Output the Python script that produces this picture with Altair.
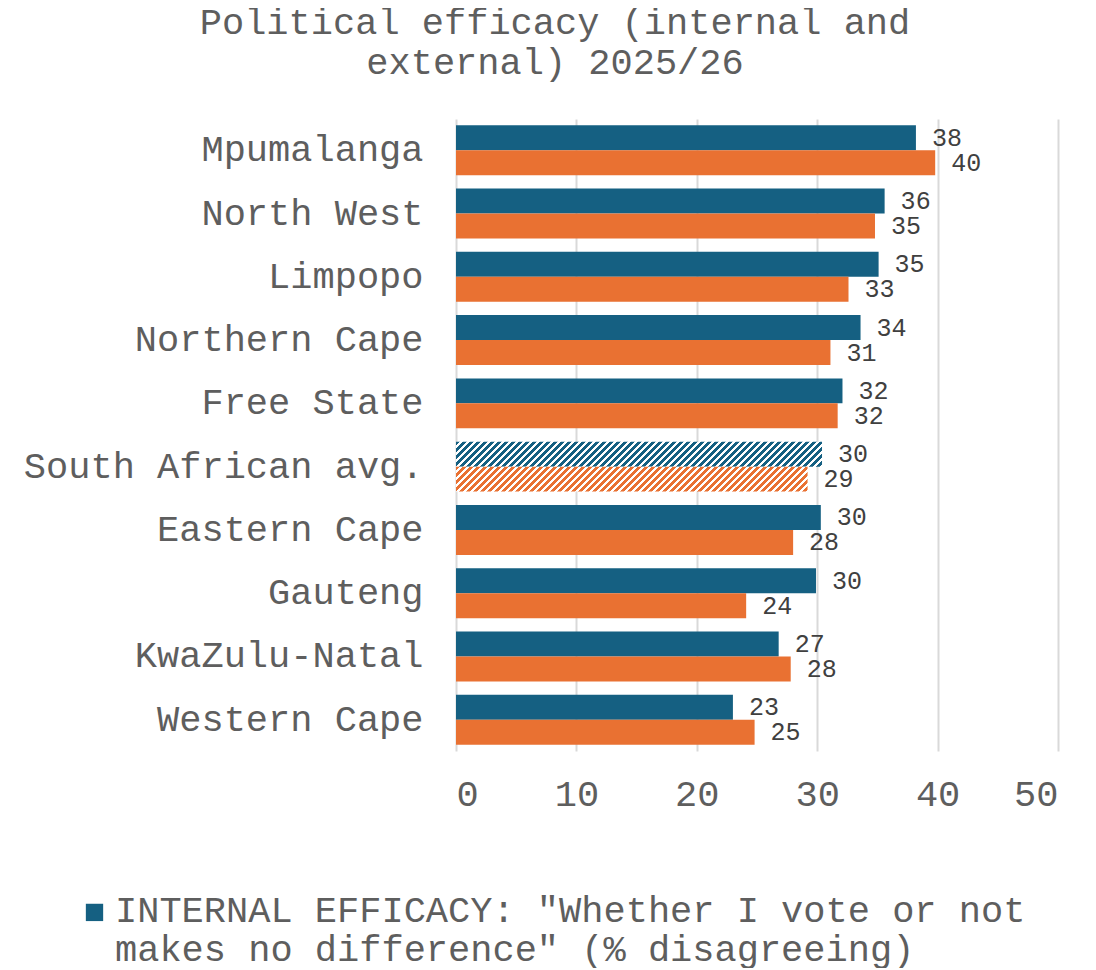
import altair as alt
import pandas as pd

regions = ["Mpumalanga", "North West", "Limpopo", "Northern Cape", "Free State",
           "South African avg.", "Eastern Cape", "Gauteng", "KwaZulu-Natal", "Western Cape"]
internal = [38.2, 35.6, 35.1, 33.6, 32.1, 30.4, 30.3, 29.9, 26.8, 23.0]
external = [39.8, 34.8, 32.6, 31.1, 31.7, 29.2, 28.0, 24.1, 27.8, 24.8]

S_INT = 'INTERNAL EFFICACY: "Whether I vote or not|makes no difference" (% disagreeing)'
S_EXT = 'EXTERNAL EFFICACY (% disagreeing)'
series = [S_INT, S_EXT]
x_ticks = [0, 10, 20, 30, 40, 50]

BLUE = "#156082"
ORANGE = "#E97132"
GREY = "#5e5e5e"
FONT = "Liberation Mono"
AVG = "South African avg."

rows = []
for r, a, b in zip(regions, internal, external):
    rows.append({"region": r, "series": S_INT, "value": a})
    rows.append({"region": r, "series": S_EXT, "value": b})
df = pd.DataFrame(rows)

W, H = 602, 632
px_per_unit = W / 50.0
bar_h = 25.0


def hatch(color, value, period=7.0):
    # diagonal stripes made with a hard-stop linear gradient over the bar's box
    w = value * px_per_unit
    s = (w + bar_h) * w / (w * w + bar_h * bar_h)
    span = w + bar_h
    p = period / span
    stops = []
    k = 0
    while k * p < 1:
        a = k * p
        m = min(a + p / 2, 1)
        e = min(a + p, 1)
        stops += [{"offset": a, "color": color}, {"offset": m, "color": color},
                  {"offset": m, "color": "#ffffff"}, {"offset": e, "color": "#ffffff"}]
        k += 1
    return alt.Gradient(gradient="linear", x1=0, y1=0, x2=s, y2=s * bar_h / w, stops=stops)


avg_int = internal[regions.index(AVG)]
avg_ext = external[regions.index(AVG)]

y_enc = alt.Y("region:N", sort=regions, title=None,
              scale=alt.Scale(paddingInner=0.21, paddingOuter=0.1),
              axis=alt.Axis(labelFont=FONT, labelFontSize=37, labelColor=GREY,
                            labelPadding=33, ticks=False, domain=False, grid=False,
                            labelLimit=600))
x_enc = alt.X("value:Q", title=None,
              scale=alt.Scale(domain=[0, 50], nice=False),
              axis=alt.Axis(values=x_ticks, labelFont=FONT, labelFontSize=37,
                            labelColor=GREY, labelPadding=25, ticks=False, domain=False,
                            grid=True, gridColor="#d9d9d9", gridWidth=2))
yoff = alt.YOffset("series:N", sort=series, scale=alt.Scale(paddingInner=0, paddingOuter=0))
color = alt.Color("series:N", sort=series,
                  scale=alt.Scale(domain=series, range=[BLUE, ORANGE]),
                  legend=alt.Legend(title=None, orient="none", legendX=-380, legendY=755,
                                    values=[S_INT], labelFont=FONT, labelFontSize=37,
                                    labelColor=GREY, symbolType="M-1,1.3H1V3.3H-1Z",
                                    symbolSize=300, symbolStrokeWidth=0,
                                    labelExpr="split(datum.label, '|')",
                                    labelLimit=1100, labelBaseline="top", labelOffset=2,
                                    symbolOffset=0))

base = alt.Chart(df)

bars = base.transform_filter(alt.datum.region != AVG).mark_bar().encode(
    y=y_enc, x=x_enc, yOffset=yoff, color=color)

avg_i = base.transform_filter((alt.datum.region == AVG) & (alt.datum.series == S_INT)).mark_bar(
    fill=hatch(BLUE, avg_int)).encode(y=y_enc, x=x_enc, yOffset=yoff)
avg_e = base.transform_filter((alt.datum.region == AVG) & (alt.datum.series == S_EXT)).mark_bar(
    fill=hatch(ORANGE, avg_ext)).encode(y=y_enc, x=x_enc, yOffset=yoff)

labels = base.mark_text(align="left", baseline="middle", dx=16, font=FONT, fontSize=25,
                        color="#404040").encode(
    y=y_enc, x=x_enc, yOffset=yoff, text=alt.Text("value:Q", format=".0f"))

chart = alt.layer(bars, avg_i, avg_e, labels).properties(
    width=W, height=H,
    padding={"left": 15, "right": 5, "top": -4, "bottom": 0},
    title=alt.TitleParams(text=["Political efficacy (internal and", "external) 2025/26"],
                          font=FONT, fontSize=37, fontWeight="normal", color=GREY,
                          anchor="middle", frame="group", offset=31, lineHeight=40,
                          dx=-202, dy=-6),
).configure_view(stroke=None)

chart.save("out.html", embed_options={"renderer": "svg", "actions": False})
